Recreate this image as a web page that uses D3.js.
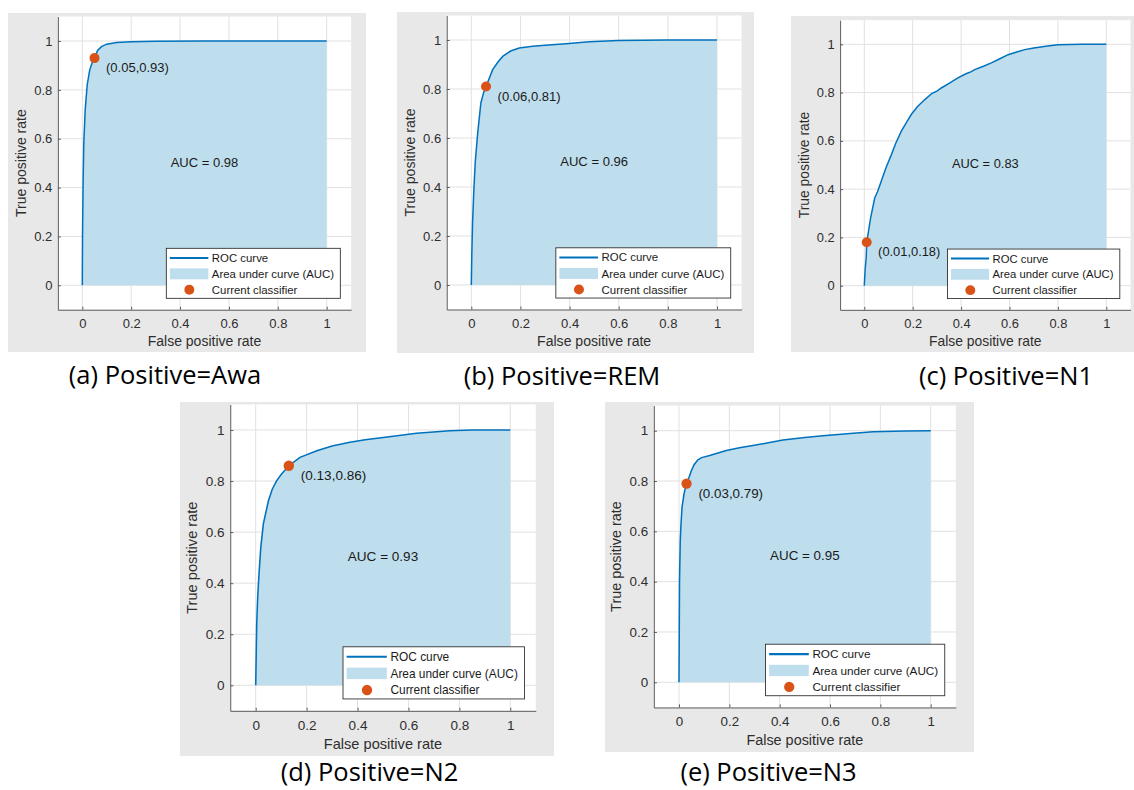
<!DOCTYPE html>
<html><head><meta charset="utf-8">
<script src="https://cdn.jsdelivr.net/npm/d3@7"></script>
<style>body{margin:0;background:#fff}svg{display:block}</style>
</head><body>
<svg id="chart" width="1134" height="790"></svg>
<script>
// ---------- data ----------
const panelLetters = ["a", "b", "c", "d", "e"];
const panelNames = ["Awa", "REM", "N1", "N2", "N3"];
const aucValues = [0.98, 0.96, 0.83, 0.93, 0.95];
const classifierFpr = [0.05, 0.06, 0.01, 0.13, 0.03];
const classifierTpr = [0.93, 0.81, 0.18, 0.86, 0.79];

const fprAwa = [0, 0.001, 0.003, 0.006, 0.012, 0.02, 0.03, 0.04, 0.05, 0.063, 0.08, 0.1, 0.14, 0.2, 0.3, 0.5, 1];
const tprAwa = [0, 0.2, 0.4, 0.58, 0.72, 0.82, 0.88, 0.91, 0.93, 0.962, 0.978, 0.987, 0.994, 0.997, 0.999, 1.0, 1.0];

const fprREM = [0, 0.002, 0.005, 0.01, 0.016, 0.026, 0.039, 0.05, 0.06, 0.087, 0.11, 0.128, 0.16, 0.195, 0.25, 0.3, 0.385, 0.48, 0.6, 0.8, 1];
const tprREM = [0, 0.12, 0.25, 0.38, 0.5, 0.62, 0.743, 0.785, 0.81, 0.879, 0.912, 0.933, 0.955, 0.967, 0.974, 0.979, 0.985, 0.993, 0.998, 1.0, 1.0];

const fprN1 = [0, 0.003, 0.008, 0.01, 0.026, 0.043, 0.055, 0.07, 0.09, 0.112, 0.13, 0.153, 0.175, 0.194, 0.22, 0.25, 0.28, 0.3, 0.318, 0.35, 0.387, 0.42, 0.44, 0.456, 0.49, 0.525, 0.56, 0.594, 0.63, 0.663, 0.7, 0.75, 0.8, 0.9, 1];
const tprN1 = [0, 0.06, 0.12, 0.18, 0.28, 0.363, 0.39, 0.433, 0.49, 0.543, 0.59, 0.64, 0.678, 0.709, 0.742, 0.771, 0.797, 0.806, 0.819, 0.838, 0.861, 0.878, 0.886, 0.895, 0.908, 0.923, 0.94, 0.957, 0.968, 0.978, 0.985, 0.992, 0.998, 1.0, 1.0];

const fprN2 = [0, 0.002, 0.004, 0.008, 0.013, 0.02, 0.03, 0.05, 0.065, 0.082, 0.1, 0.13, 0.174, 0.24, 0.3, 0.37, 0.43, 0.501, 0.632, 0.763, 0.85, 1];
const tprN2 = [0, 0.12, 0.24, 0.35, 0.436, 0.54, 0.632, 0.723, 0.768, 0.801, 0.826, 0.86, 0.893, 0.919, 0.937, 0.952, 0.962, 0.971, 0.987, 0.997, 1.0, 1.0];

const fprN3 = [0, 0.001, 0.002, 0.005, 0.008, 0.012, 0.02, 0.03, 0.04, 0.049, 0.06, 0.075, 0.09, 0.122, 0.188, 0.24, 0.294, 0.35, 0.413, 0.5, 0.572, 0.68, 0.771, 0.9, 1];
const tprN3 = [0, 0.2, 0.4, 0.563, 0.63, 0.695, 0.75, 0.79, 0.815, 0.841, 0.865, 0.884, 0.893, 0.901, 0.921, 0.932, 0.941, 0.951, 0.963, 0.973, 0.98, 0.989, 0.996, 0.999, 1.0];

const fprSeries = [fprAwa, fprREM, fprN1, fprN2, fprN3];
const tprSeries = [tprAwa, tprREM, tprN1, tprN2, tprN3];

const tickValues = [0, 0.2, 0.4, 0.6, 0.8, 1];
const tickLabels = ["0", "0.2", "0.4", "0.6", "0.8", "1"];
const legendLabels = ["ROC curve", "Area under curve (AUC)", "Current classifier"];
const xAxisLabel = "False positive rate";
const yAxisLabel = "True positive rate";

// ---------- layout ----------
const layout = [
  {bg: [8, 13, 358, 339],   xr: [82.3, 326.7],  yr: [285.3, 41],   s: 1.0,   cap: [165, 384]},
  {bg: [397, 12, 357, 341], xr: [471.3, 717],   yr: [285, 40],     s: 1.005, cap: [562, 385]},
  {bg: [791, 16, 345, 336], xr: [864.3, 1106.3], yr: [285.7, 44.3], s: 0.99, cap: [1006, 385]},
  {bg: [180, 402, 374, 354], xr: [255.7, 510.3], yr: [685.3, 430],  s: 1.043, cap: [369.5, 781]},
  {bg: [605, 402, 369, 350], xr: [679, 930.7],   yr: [682.3, 430.7], s: 1.03, cap: [768.5, 781]}
];

const C = {
  bg: "#e8e8e8", grid: "#e1e1e1", axis: "#5c5c5c", text: "#2e2e2e",
  fill: "#bfdeed", line: "#0072bd", dot: "#d95319"
};
const FONT = "'Liberation Sans', Arial, Helvetica, sans-serif";

const svg = d3.select("#chart");

panelNames.forEach((name, i) => {
  const L = layout[i], s = L.s;
  const x = d3.scaleLinear().domain([0, 1]).range(L.xr);
  const y = d3.scaleLinear().domain([0, 1]).range(L.yr);
  const xa = d3.scaleLinear().domain([-0.1, 1.1]).range([x(-0.1), x(1.1)]);
  const ya = d3.scaleLinear().domain([-0.1, 1.1]).range([y(-0.1), y(1.1)]);
  const g = svg.append("g");

  // figure background
  g.append("rect").attr("x", L.bg[0]).attr("y", L.bg[1])
    .attr("width", L.bg[2]).attr("height", L.bg[3]).attr("fill", C.bg);
  // axes background
  g.append("rect").attr("x", x(-0.1)).attr("y", y(1.1))
    .attr("width", x(1.1) - x(-0.1)).attr("height", y(-0.1) - y(1.1)).attr("fill", "#fff");

  // grid
  g.append("g").selectAll("line").data(tickValues).join("line")
    .attr("x1", d => x(d)).attr("x2", d => x(d)).attr("y1", y(-0.1)).attr("y2", y(1.1))
    .attr("stroke", C.grid).attr("stroke-width", 1);
  g.append("g").selectAll("line").data(tickValues).join("line")
    .attr("y1", d => y(d)).attr("y2", d => y(d)).attr("x1", x(-0.1)).attr("x2", x(1.1))
    .attr("stroke", C.grid).attr("stroke-width", 1);

  const pts = fprSeries[i].map((f, k) => [f, tprSeries[i][k]]);
  // AUC area
  g.append("path").datum(pts)
    .attr("d", d3.area().x(d => x(d[0])).y0(y(0)).y1(d => y(d[1])))
    .attr("fill", C.fill);
  // ROC line
  g.append("path").datum(pts)
    .attr("d", d3.line().x(d => x(d[0])).y(d => y(d[1])))
    .attr("fill", "none").attr("stroke", C.line).attr("stroke-width", 1.5 * s);

  // axes
  const fmt = d => tickLabels[tickValues.indexOf(d)];
  const gx = g.append("g").attr("transform", `translate(0,${y(-0.1)})`)
    .call(d3.axisBottom(xa).tickValues(tickValues).tickFormat(fmt)
      .tickSizeInner(-3 * s).tickSizeOuter(0).tickPadding(9 * s));
  const gy = g.append("g").attr("transform", `translate(${x(-0.1)},0)`)
    .call(d3.axisLeft(ya).tickValues(tickValues).tickFormat(fmt)
      .tickSizeInner(-3 * s).tickSizeOuter(0).tickPadding(5.5 * s));
  [gx, gy].forEach(a => {
    a.select(".domain").attr("stroke", C.axis).attr("stroke-width", 1);
    a.selectAll(".tick line").attr("stroke", C.axis);
    a.selectAll("text").attr("fill", C.text).style("font-family", FONT).style("font-size", (13 * s) + "px");
  });

  // axis labels
  g.append("text").attr("x", x(0.5)).attr("y", y(-0.1) + 36.5 * s)
    .attr("text-anchor", "middle").attr("fill", C.text)
    .style("font-family", FONT).style("font-size", (14 * s) + "px").text(xAxisLabel);
  g.append("text").attr("transform", `translate(${x(-0.1) - 31.5 * s},${y(0.5)}) rotate(-90)`)
    .attr("text-anchor", "middle").attr("fill", C.text)
    .style("font-family", FONT).style("font-size", (14 * s) + "px").text(yAxisLabel);

  // AUC text
  g.append("text").attr("x", x(0.5)).attr("y", y(0.5))
    .attr("text-anchor", "middle").attr("dominant-baseline", "middle").attr("fill", "#1a1a1a")
    .style("font-family", FONT).style("font-size", (13 * s) + "px")
    .text("AUC = " + aucValues[i].toFixed(2));

  // classifier point
  const cx = x(classifierFpr[i]), cy = y(classifierTpr[i]);
  g.append("circle").attr("cx", cx).attr("cy", cy).attr("r", 5 * s).attr("fill", C.dot);
  g.append("text").attr("x", cx + 11.5 * s).attr("y", cy + 14 * s).attr("fill", "#1a1a1a")
    .style("font-family", FONT).style("font-size", (13 * s) + "px")
    .text(`(${classifierFpr[i].toFixed(2)},${classifierTpr[i].toFixed(2)})`);

  // legend
  const lw = 174 * s, lh = 50 * s;
  const lx = x(1.1) - 10.8 * s - lw, ly = y(-0.1) - 11.4 * s - lh;
  const lg = g.append("g").attr("transform", `translate(${lx},${ly})`);
  lg.append("rect").attr("width", lw).attr("height", lh).attr("fill", "#fff")
    .attr("stroke", "#333").attr("stroke-width", 0.9);
  lg.append("line").attr("x1", 3.5 * s).attr("x2", 42 * s).attr("y1", 9.6 * s).attr("y2", 9.6 * s)
    .attr("stroke", C.line).attr("stroke-width", 2 * s);
  lg.append("rect").attr("x", 3.5 * s).attr("y", 20 * s).attr("width", 38.5 * s).attr("height", 11 * s)
    .attr("fill", C.fill);
  lg.append("circle").attr("cx", 23 * s).attr("cy", 41.5 * s).attr("r", 5 * s).attr("fill", C.dot);
  lg.selectAll("text.lab").data(legendLabels).join("text").attr("class", "lab")
    .attr("x", 45.5 * s).attr("y", (d, k) => (13.6 + k * 16) * s)
    .attr("fill", "#1a1a1a").style("font-family", FONT).style("font-size", (11.4 * s) + "px")
    .text(d => d);

  // caption
  svg.append("text").attr("x", L.cap[0]).attr("y", L.cap[1]).attr("text-anchor", "middle")
    .attr("fill", "#000").style("font-family", "'Open Sans', 'Noto Sans', sans-serif")
    .style("font-size", "25.5px")
    .text(`(${panelLetters[i]}) Positive=${name}`);
});
</script>
</body></html>
